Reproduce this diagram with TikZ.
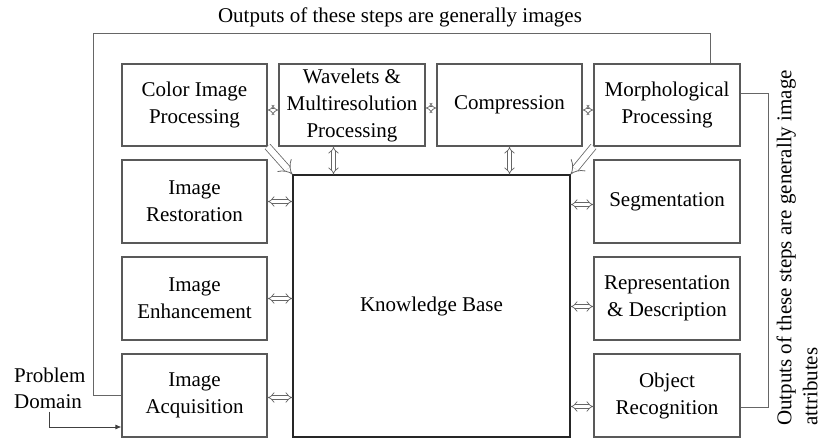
\documentclass[tikz,border=0pt]{standalone}
\usepackage{fontspec}
\setmainfont{Liberation Serif}
\usetikzlibrary{arrows.meta,calc}
\begin{document}
\begin{tikzpicture}[x=1pt,y=-1pt,
  box/.style={draw=black!65,line width=1.1pt,inner sep=0pt,align=center,
    font=\fontsize{21}{27}\selectfont},
  fline/.style={draw=black!60,line width=0.9pt},
  harrow/.style={draw=black!60,line width=0.7pt,double,double distance=3pt,{Implies[length=3.5pt]}-{Implies[length=3.5pt]}},
  sarrow/.style={draw=black!60,line width=0.7pt,double,double distance=3pt,{Implies[length=2.5pt]}-{Implies[length=2.5pt]}},
  bigarrow/.style={draw=black!60,line width=0.8pt,double,double distance=6pt,-{Implies[length=5pt]}},
  lbl/.style={font=\fontsize{21}{26}\selectfont,inner sep=0pt}]
\useasboundingbox (0,0) rectangle (823,439);
% top row
\node[box,minimum width=145pt,minimum height=82pt] (color) at (194.5,105) {Color Image\\Processing};
\node[box,minimum width=146pt,minimum height=82pt] (wave) at (352,105) {Wavelets \&\\Multiresolution\\Processing};
\node[box,minimum width=145pt,minimum height=82pt] (comp) at (509.5,105) {Compression};
\node[box,minimum width=146pt,minimum height=82pt] (morph) at (667,105) {Morphological\\Processing};
% left column
\node[box,minimum width=145pt,minimum height=83pt] (rest) at (194.5,201.5) {Image\\Restoration};
\node[box,minimum width=145pt,minimum height=83pt] (enh) at (194.5,298.5) {Image\\Enhancement};
\node[box,minimum width=145pt,minimum height=83pt] (acq) at (194.5,395.5) {Image\\Acquisition};
% right column
\node[box,minimum width=146pt,minimum height=83pt] (seg) at (667,201.5) {Segmentation};
\node[box,minimum width=146pt,minimum height=83pt] (rep) at (667,298.5) {Representation\\\& Description};
\node[box,minimum width=146pt,minimum height=83pt] (obj) at (667,395.5) {Object\\Recognition};
% knowledge base
\node[box,draw=black!85,minimum width=277pt,minimum height=262pt] (kb) at (431.5,306) {Knowledge Base};
% labels
\node[lbl] (toplbl) at (400,17) {Outputs of these steps are generally images};
\node[lbl,rotate=90,anchor=west,align=left] (sidelbl) at (797,426) {Outputs of these steps are generally image\\attributes};
\node[lbl,align=left,anchor=west] (pd) at (14,388) {Problem\\Domain};
% feedback lines
\coordinate (tl) at (93,33);
\coordinate (tr) at (710,33);
\draw[fline] (acq.west) -| (tl) -- (tr) -- (tr |- morph.north);
\coordinate (rr) at (768,93);
\draw[fline] ([yshift=12pt]morph.east) -- (rr) |- ([yshift=-12pt]obj.east);
\draw[draw=black!75,line width=0.9pt,-{Latex[length=6pt,width=5pt]}] ([yshift=-3pt]pd.south) |- ([yshift=-31.5pt]acq.west);
% double arrows top row
\draw[sarrow] ([yshift=-5pt]color.east) -- ([yshift=-5pt]color.east -| wave.west);
\draw[sarrow] ([yshift=-3pt]wave.east) -- ([yshift=-3pt]wave.east -| comp.west);
\draw[sarrow] ([yshift=-5pt]comp.east) -- ([yshift=-5pt]comp.east -| morph.west);
% vertical
\draw[harrow] ([xshift=-18.5pt]wave.south) -- ([xshift=-18.5pt]wave.south |- kb.north);
\draw[harrow] (comp.south) -- (comp.south |- kb.north);
% diagonal
\draw[bigarrow] (color.south east) -- (kb.north west);
\draw[bigarrow] (morph.south west) -- (kb.north east);
% left
\draw[harrow] (rest.east) -- (rest.east -| kb.west);
\draw[harrow] (enh.east) -- (enh.east -| kb.west);
\draw[harrow] ([yshift=-2pt]acq.east) -- ([yshift=-2pt]acq.east -| kb.west);
% right
\draw[harrow] ([yshift=-3pt]seg.west) -- ([yshift=-3pt]seg.west -| kb.east);
\draw[harrow] ([yshift=-8pt]rep.west) -- ([yshift=-8pt]rep.west -| kb.east);
\draw[harrow] ([yshift=-11pt]obj.west) -- ([yshift=-11pt]obj.west -| kb.east);
\end{tikzpicture}
\end{document}
